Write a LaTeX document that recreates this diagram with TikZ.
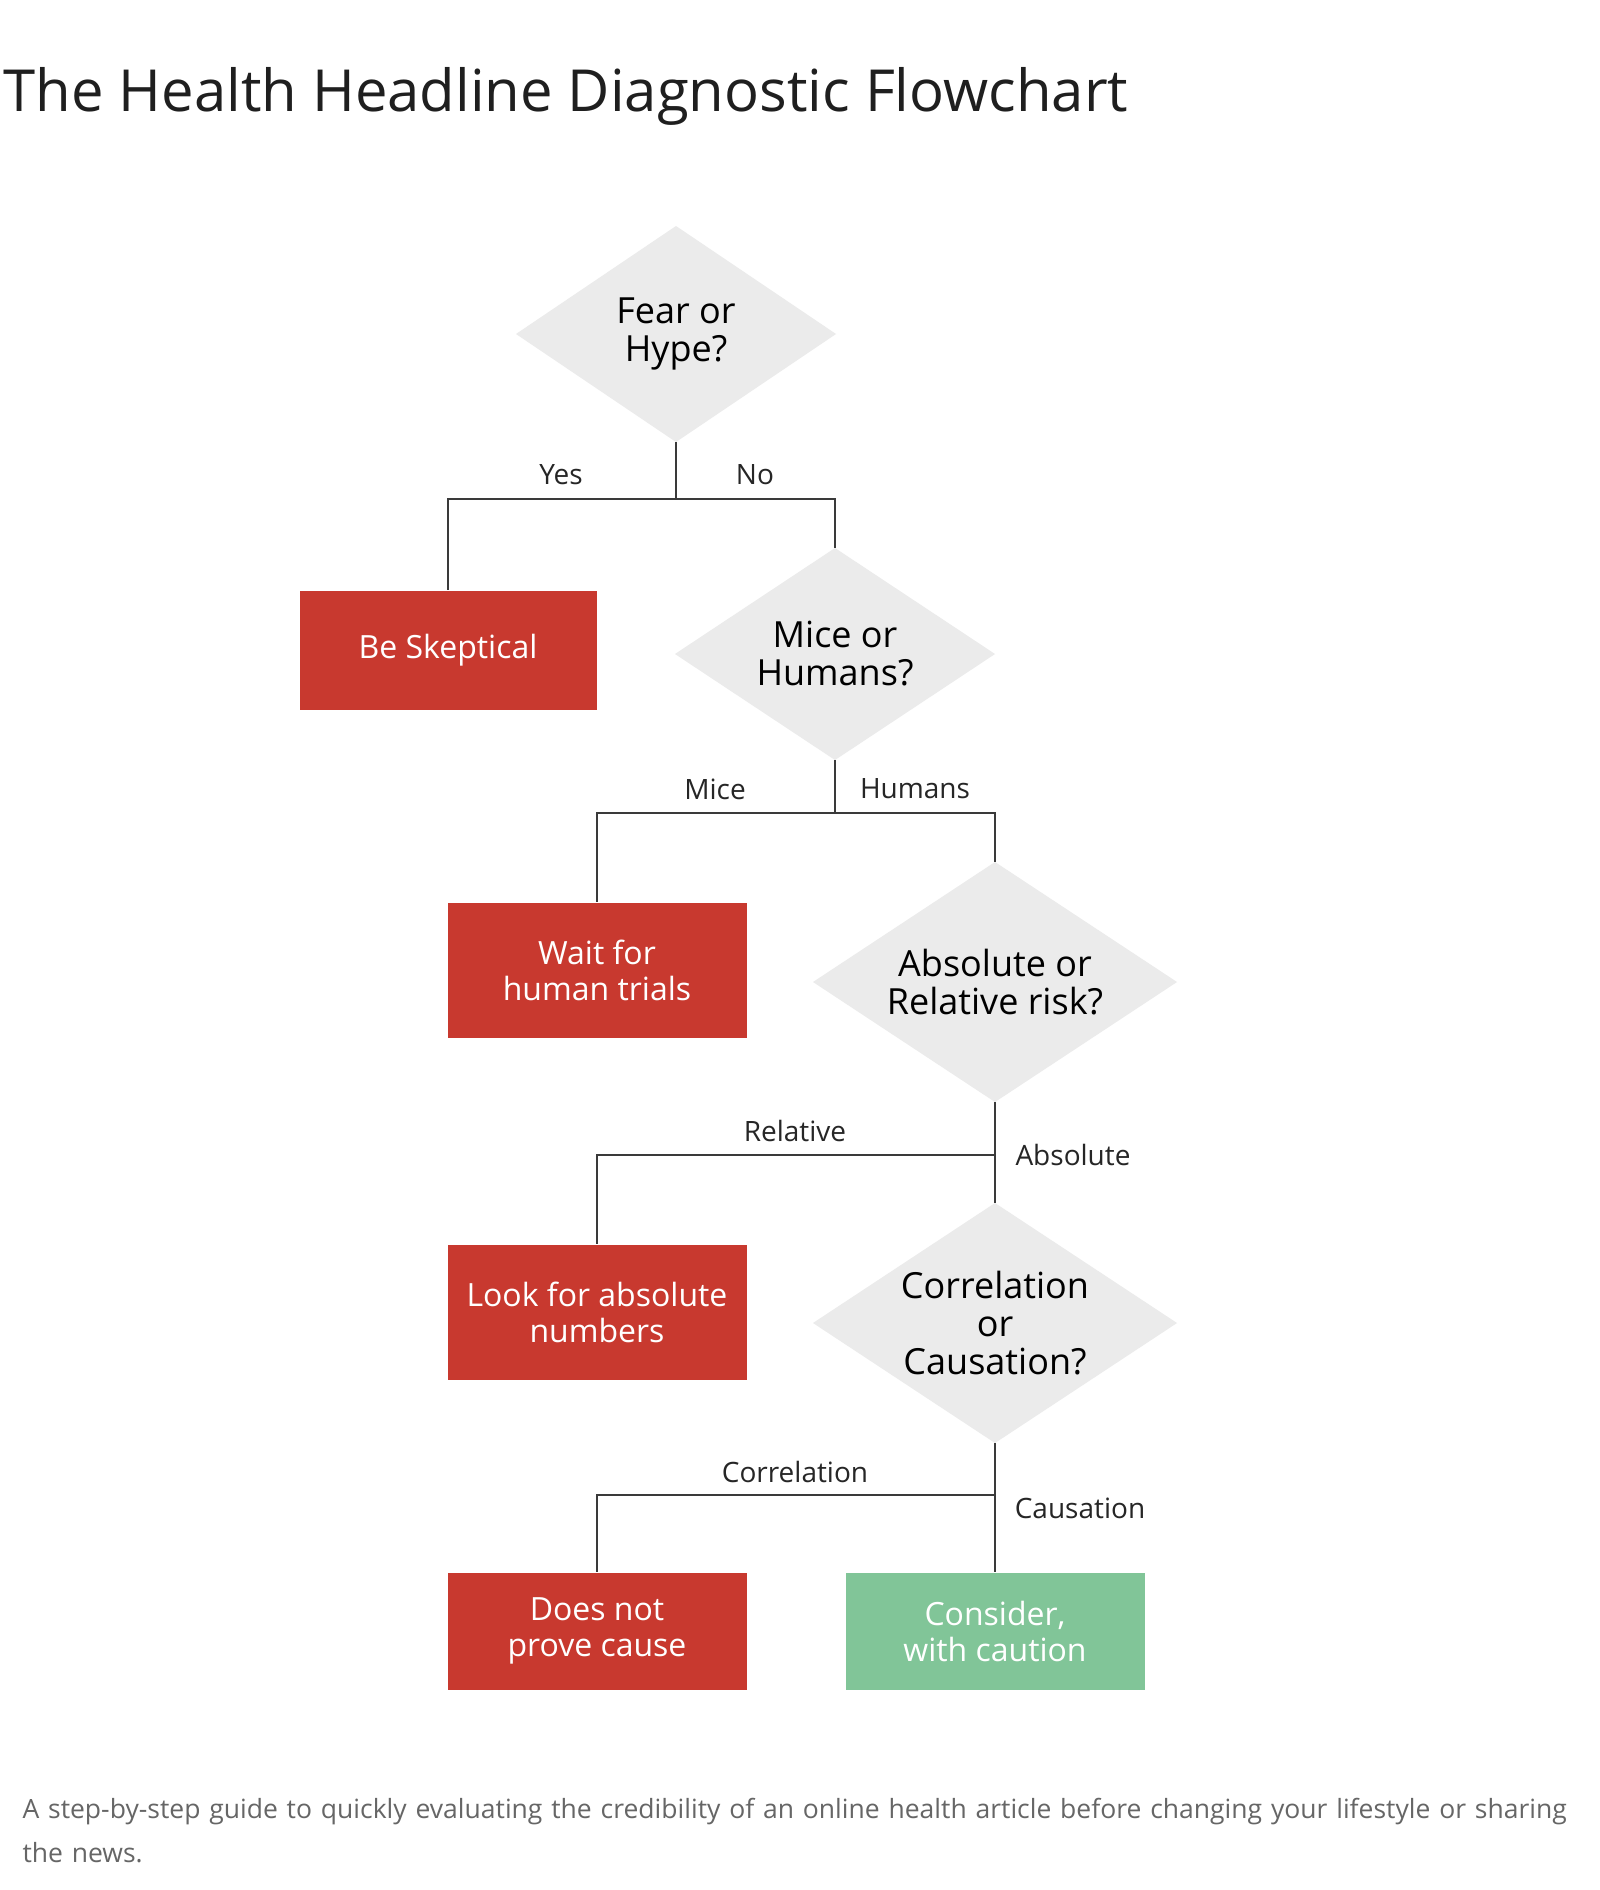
\documentclass[tikz,border=0pt]{standalone}
\usepackage{fontspec}
\setmainfont{Open Sans}
\usetikzlibrary{shapes.geometric}
\definecolor{redbox}{HTML}{C8392F}
\definecolor{greenbox}{HTML}{81C598}
\definecolor{dia}{HTML}{EBEBEB}
\definecolor{ln}{HTML}{3A3A3A}
\begin{document}
\begin{tikzpicture}[x=1pt,y=-1pt,
  dnode/.style={diamond,fill=dia,draw=none,align=center,inner sep=0pt,font=\fontsize{36}{38}\selectfont},
  box/.style={rectangle,fill=redbox,text=white,align=center,inner sep=0pt,font=\fontsize{32}{36}\selectfont},
  gbox/.style={box,fill=greenbox},
  lab/.style={font=\fontsize{28}{30}\selectfont,text=black!85},
  conn/.style={draw=ln,line width=2pt}]
\useasboundingbox (0,0) rectangle (1600,1890);
\fill[white] (0,0) rectangle (1600,1890);
\node[anchor=base west,font=\fontsize{58}{60}\selectfont,text=black!88] (title) at (0,111) {The Health Headline Diagnostic Flowchart};
% diamonds as explicit polygons via nodes
\newcommand{\mydia}[5]{\fill[dia] (#2-#3,#4+0) -- (#2,#4-#5) -- (#2+#3,#4) -- (#2,#4+#5) -- cycle;}
\fill[dia] (516,334) -- (676,226) -- (836,334) -- (676,442) -- cycle;
\node[dnode,fill=none] (d1) at (676,334) {Fear or\\Hype?};
\coordinate (d1b) at (676,442);
\fill[dia] (675,654) -- (835,548) -- (995,654) -- (835,760) -- cycle;
\node[dnode,fill=none] (d2) at (835,654) {Mice or\\Humans?};
\coordinate (d2t) at (835,548); \coordinate (d2b) at (835,760);
\fill[dia] (813,982) -- (995,862) -- (1177,982) -- (995,1102) -- cycle;
\node[dnode,fill=none] (d3) at (995,982) {Absolute or\\Relative risk?};
\coordinate (d3t) at (995,862); \coordinate (d3b) at (995,1102);
\fill[dia] (813,1323) -- (995,1203) -- (1177,1323) -- (995,1443) -- cycle;
\node[dnode,fill=none] (d4) at (995,1323) {Correlation\\or\\Causation?};
\coordinate (d4t) at (995,1203); \coordinate (d4b) at (995,1443);
\node[box,minimum width=297,minimum height=119] (b1) at (448,650) {Be Skeptical};
\node[box,minimum width=299,minimum height=135] (b2) at (597,970) {Wait for\\human trials};
\node[box,minimum width=299,minimum height=135] (b3) at (597,1312) {Look for absolute\\numbers};
\node[box,minimum width=299,minimum height=117] (b4) at (597,1631) {Does not\\prove cause};
\node[gbox,minimum width=299,minimum height=117] (b5) at (995,1631) {Consider,\\with caution};
\coordinate (j1) at (676,499);
\coordinate (j2) at (835,813);
\coordinate (j3) at (995,1155);
\coordinate (j4) at (995,1495);
\draw[conn] (d1b) -- (j1) -| (b1.north);
\draw[conn] (j1) -| (d2t);
\draw[conn] (d2b) -- (j2) -| (b2.north);
\draw[conn] (j2) -| (d3t);
\draw[conn] (d3b) -- (d4t);
\draw[conn] (j3) -| (b3.north);
\draw[conn] (d4b) -- (b5.north);
\draw[conn] (j4) -| (b4.north);
\node[lab] (l1) at (561,475) {Yes};
\node[lab] (l2) at (755,475) {No};
\node[lab] (l3) at (715,789) {Mice};
\node[lab] (l4) at (915,789) {Humans};
\node[lab] (l5) at (795,1131) {Relative};
\node[lab] (l6) at (1073,1155) {Absolute};
\node[lab] (l7) at (795,1472) {Correlation};
\node[lab] (l8) at (1080,1508) {Causation};
\node[anchor=base west,font=\fontsize{26.5}{44}\selectfont,text=black!60,align=left,text width=1560] (cap) at (19,1818) {A step-by-step guide to quickly evaluating the credibility of an online health article before changing your lifestyle or sharing the news.};
\end{tikzpicture}
\end{document}
